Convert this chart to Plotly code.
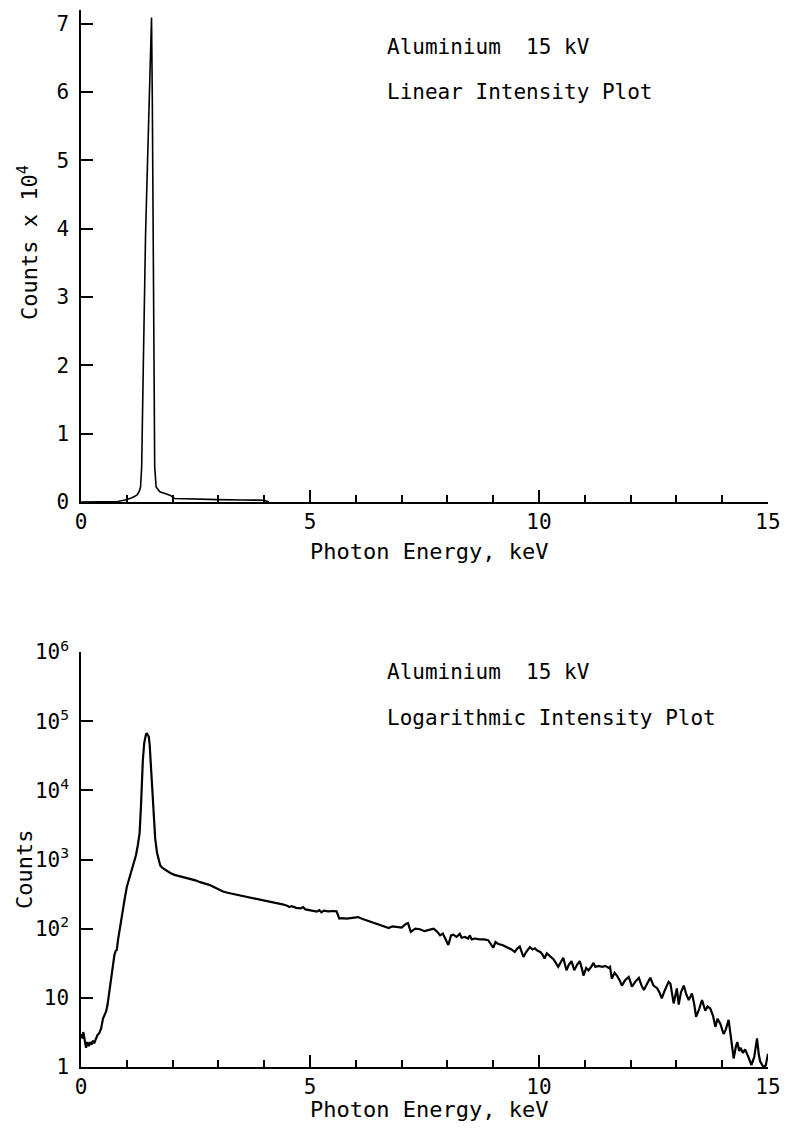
import plotly.graph_objects as go

# ---------------- data ----------------
# Top panel: linear intensity (counts x 10^4)
lin_energy = [0.0, 0.5, 0.8, 0.96, 1.10, 1.22, 1.27, 1.30, 1.325, 1.36, 1.41, 1.47, 1.52, 1.54,
              1.557, 1.572, 1.587, 1.609, 1.64, 1.72, 1.85, 1.94, 2.05, 2.5, 3.0, 3.5, 4.0, 4.1]
lin_counts = [0.0, 0.003, 0.008, 0.03, 0.06, 0.10, 0.15, 0.22, 0.52, 1.98, 3.93, 5.4, 6.62, 7.09,
              5.89, 3.93, 1.98, 0.52, 0.22, 0.15, 0.12, 0.10, 0.05, 0.04, 0.035, 0.03, 0.025, 0.0]

# Bottom panel: logarithmic intensity (counts)
log_energy = [0.00, 0.03, 0.05, 0.08, 0.11, 0.14, 0.17, 0.20, 0.23, 0.26, 0.29, 0.32, 0.36, 0.40,
              0.44, 0.48, 0.52, 0.55, 0.58, 0.62, 0.66, 0.70, 0.73, 0.76, 0.78, 0.81, 0.84, 0.88,
              0.92, 0.95, 1.00, 1.06, 1.12, 1.16, 1.20, 1.24, 1.28, 1.31, 1.33, 1.35, 1.38, 1.40,
              1.42, 1.44, 1.46, 1.48, 1.50, 1.53, 1.56, 1.59, 1.62, 1.66, 1.70, 1.73, 1.77, 1.82,
              1.88, 1.95, 2.04, 2.12, 2.20, 2.30, 2.40, 2.50, 2.60, 2.70, 2.80, 2.90, 3.00, 3.10,
              3.20, 3.30, 3.40, 3.50, 3.60, 3.70, 3.80, 3.90, 4.00, 4.10, 4.20, 4.30, 4.40, 4.50,
              4.55, 4.60, 4.70, 4.80, 4.85, 4.90, 5.00, 5.10, 5.15, 5.20, 5.25, 5.30, 5.40, 5.50,
              5.58, 5.64, 5.70, 5.80, 5.90, 6.00, 6.05, 6.15, 6.30, 6.45, 6.56, 6.65, 6.72, 6.80,
              6.90, 7.00, 7.10, 7.14, 7.20, 7.30, 7.40, 7.50, 7.60, 7.70, 7.78, 7.84, 7.90, 7.97,
              8.02, 8.08, 8.13, 8.20, 8.27, 8.31, 8.38, 8.45, 8.49, 8.53, 8.60, 8.70, 8.80, 8.89,
              8.95, 9.00, 9.05, 9.11, 9.20, 9.30, 9.40, 9.47, 9.53, 9.58, 9.63, 9.66, 9.72, 9.80,
              9.86, 9.91, 9.97, 10.03, 10.08, 10.12, 10.17, 10.25, 10.32, 10.42, 10.47, 10.53,
              10.60, 10.65, 10.71, 10.77, 10.83, 10.89, 10.94, 10.97, 11.03, 11.08, 11.14, 11.19,
              11.23, 11.30, 11.38, 11.45, 11.52, 11.55, 11.59, 11.65, 11.70, 11.76, 11.81, 11.88,
              11.96, 12.03, 12.10, 12.18, 12.24, 12.29, 12.36, 12.43, 12.50, 12.58, 12.63, 12.68,
              12.75, 12.83, 12.87, 12.94, 12.98, 13.01, 13.05, 13.10, 13.16, 13.22, 13.27, 13.34,
              13.39, 13.43, 13.50, 13.56, 13.63, 13.68, 13.74, 13.80, 13.85, 13.90, 13.96, 14.03,
              14.08, 14.14, 14.20, 14.25, 14.30, 14.33, 14.37, 14.40, 14.45, 14.50, 14.57, 14.64,
              14.70, 14.76, 14.80, 14.83, 14.90, 14.95, 15.00]
log_counts = [3.0, 2.6, 3.2, 2.4, 1.9, 2.3, 2.0, 2.3, 2.1, 2.4, 2.2, 2.5, 2.9, 3.1,
              3.6, 5.0, 6.0, 6.4, 8.0, 12, 18, 29, 42, 48, 49, 70, 95, 150,
              215, 260, 400, 560, 760, 900, 1150, 1600, 2400, 6000, 13000, 27000, 48000, 60000,
              65000, 66000, 64000, 60000, 45000, 19500, 8000, 3700, 2000, 1250, 1000, 820, 760, 720,
              670, 640, 600, 580, 570, 550, 525, 500, 470, 450, 430, 400, 370, 345,
              330, 320, 305, 295, 290, 280, 268, 260, 255, 245, 238, 232, 225, 215,
              205, 212, 200, 196, 205, 190, 186, 182, 176, 185, 172, 182, 178, 180,
              178, 140, 142, 140, 142, 146, 147, 138, 128, 118, 112, 106, 102, 108,
              106, 104, 118, 120, 90, 100, 98, 92, 96, 100, 90, 80, 85, 70,
              58, 80, 82, 76, 84, 74, 76, 72, 80, 70, 72, 70, 70, 68,
              58, 53, 64, 60, 58, 54, 50, 46, 52, 55, 44, 39, 46, 54,
              50, 52, 48, 46, 42, 37, 44, 40, 36, 28, 32, 38,
              25, 30, 34, 25, 30, 34, 26, 21, 27, 25, 28, 32,
              28, 29, 28, 29, 27, 28, 19, 23, 21, 18, 15, 18,
              20, 14.5, 17, 19.5, 15, 13, 16, 19.5, 15, 13.8, 12, 9.8,
              13, 17, 16, 8.3, 11, 13.7, 8, 12, 15, 11, 9.3, 11.6,
              8, 5.3, 7, 9.3, 6.5, 7.5, 7, 5.5, 3.8, 5, 4.2, 3.0,
              3.5, 4.8, 2.4, 1.33, 2.0, 2.3, 1.7, 1.9, 1.6, 1.8, 1.4, 1.07,
              1.4, 2.6, 1.5, 1.2, 1.0, 1.05, 1.55]

x_tick_values = [0, 5, 10, 15]
x_tick_labels = ["0", "5", "10", "15"]
lin_tick_values = [0, 1, 2, 3, 4, 5, 6, 7]
log_tick_values = [1, 10, 100, 1000, 10000, 100000, 1000000]
log_tick_labels = ["1", "10", "10<sup>2</sup>", "10<sup>3</sup>", "10<sup>4</sup>",
                   "10<sup>5</sup>", "10<sup>6</sup>"]

# ---------------- figure ----------------
W, H = 785, 1129
FONT = "DejaVu Sans Mono"
fig = go.Figure()

fig.add_trace(go.Scatter(x=lin_energy, y=lin_counts, mode="lines",
                         line=dict(color="black", width=1.6), xaxis="x", yaxis="y",
                         showlegend=False, hoverinfo="skip"))
fig.add_trace(go.Scatter(x=log_energy, y=log_counts, mode="lines",
                         line=dict(color="black", width=2.2), xaxis="x2", yaxis="y2",
                         showlegend=False, hoverinfo="skip"))

xdom = [81 / W, 768 / W]
top_dom = [1 - 502 / H, 1 - 10 / H]
bot_dom = [1 - 1067 / H, 1 - 652 / H]

axis_common = dict(showline=True, linecolor="black", linewidth=1.5, showgrid=False,
                   zeroline=False, ticks="inside", tickcolor="black", tickwidth=1.5,
                   tickfont=dict(family=FONT, size=21, color="black"))

xaxis_common = dict(axis_common, range=[0, 15], tickmode="array", tickvals=x_tick_values,
                    ticktext=x_tick_labels, ticklen=12,
                    minor=dict(dtick=1, tick0=0, ticks="inside", ticklen=7,
                               tickcolor="black", tickwidth=1.5, showgrid=False))

fig.update_layout(
    width=W, height=H, margin=dict(l=0, r=0, t=0, b=0, pad=0, autoexpand=False),
    paper_bgcolor="white", plot_bgcolor="white",
    xaxis=dict(xaxis_common, domain=xdom, anchor="y"),
    yaxis=dict(axis_common, domain=top_dom, anchor="x", range=[0, 7.2],
               tickmode="array", tickvals=lin_tick_values, ticklen=12, ticklabelstandoff=6),
    xaxis2=dict(xaxis_common, domain=xdom, anchor="y2"),
    yaxis2=dict(axis_common, domain=bot_dom, anchor="x2", type="log", range=[0, 6],
                tickmode="array", tickvals=log_tick_values, ticktext=log_tick_labels,
                ticklen=12, ticklabelstandoff=6),
)

ann_font = dict(family=FONT, size=21, color="black")
title_font = dict(family=FONT, size=22, color="black")


def px_x(p):
    return p / W


def px_y(p):
    return 1 - p / H


annotations = [
    dict(text="Aluminium  15 kV", x=px_x(385), y=px_y(47), xanchor="left", yanchor="middle", font=ann_font),
    dict(text="Linear Intensity Plot", x=px_x(385), y=px_y(92), xanchor="left", yanchor="middle", font=ann_font),
    dict(text="Aluminium  15 kV", x=px_x(385), y=px_y(672), xanchor="left", yanchor="middle", font=ann_font),
    dict(text="Logarithmic Intensity Plot", x=px_x(385), y=px_y(718), xanchor="left", yanchor="middle", font=ann_font),
    dict(text="Photon Energy, keV", x=px_x(429), y=px_y(551), xanchor="center", yanchor="middle", font=title_font),
    dict(text="Photon Energy, keV", x=px_x(429), y=px_y(1109), xanchor="center", yanchor="middle", font=title_font),
    dict(text="Counts x 10<sup>4</sup>", x=px_x(28), y=px_y(243), xanchor="center", yanchor="middle",
         textangle=-90, font=title_font),
    dict(text="Counts", x=px_x(24), y=px_y(870), xanchor="center", yanchor="middle",
         textangle=-90, font=title_font),
]
for a in annotations:
    a.update(xref="paper", yref="paper", showarrow=False)
fig.update_layout(annotations=annotations)

fig.write_html("out.html")
